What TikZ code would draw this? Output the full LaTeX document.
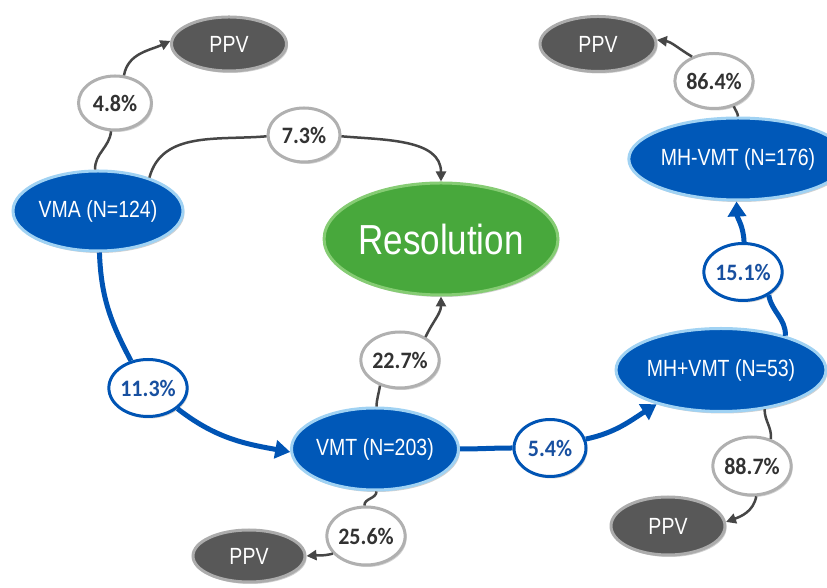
\documentclass[tikz,border=0pt]{standalone}
\usepackage{graphicx}
\usepackage{fontspec}
\setmainfont{Liberation Sans}
\newfontfamily\pctfont{Carlito}
\usetikzlibrary{shapes.geometric,arrows.meta,shadows}
\newcommand{\vstr}[1]{\scalebox{1}[1.2]{#1}}
\newcommand{\pstr}[1]{\scalebox{1}[1.07]{#1}}
\definecolor{bfill}{RGB}{0,88,184}
\definecolor{bring}{RGB}{160,210,243}
\definecolor{pfill}{RGB}{88,88,88}
\definecolor{pring}{RGB}{172,172,172}
\definecolor{rfill}{RGB}{72,168,60}
\definecolor{rring}{RGB}{134,204,116}
\definecolor{cring}{RGB}{176,176,176}
\definecolor{ctext}{RGB}{50,50,50}
\definecolor{bline}{RGB}{0,84,180}
\definecolor{btext}{RGB}{24,80,160}
\definecolor{gcol}{RGB}{70,70,70}
\tikzset{
  shad/.style={drop shadow={shadow xshift=1.5bp,shadow yshift=-2bp,opacity=0.18,fill=black}},
  blueell/.style={ellipse, shad, fill=bfill, draw=bring, line width=3bp, text=white,
    font=\fontsize{19.5bp}{22bp}\selectfont, inner sep=0pt},
  ppvell/.style={ellipse, shad, fill=pfill, draw=pring, line width=3bp, text=white,
    font=\fontsize{19.5bp}{22bp}\selectfont, inner sep=0pt},
  resell/.style={ellipse, shad, fill=rfill, draw=rring, line width=3bp, text=white,
    font=\fontsize{35bp}{38bp}\selectfont, inner sep=0pt},
  pct/.style={ellipse, shad, fill=white, draw=cring, line width=3bp, text=ctext,
    font=\pctfont\bfseries\fontsize{22bp}{24bp}\selectfont, inner sep=0pt},
  bpct/.style={pct, draw=bline, text=btext},
  gline/.style={draw=gcol, line width=2.5bp},
  garr/.style={gline, -{Triangle[length=10bp,width=10bp]}},
  bln/.style={draw=bline, line width=5bp},
  barr/.style={bln, -{Triangle[length=15bp,width=18bp]}},
}
\begin{document}
\begin{tikzpicture}[x=1bp,y=1bp]
\useasboundingbox (0,0) rectangle (827,588);
% main nodes
\node[blueell, minimum width=170bp, minimum height=80bp] (vma) at (98,377) {\vstr{VMA (N=124)}};
\node[blueell, minimum width=167bp, minimum height=82bp] (vmt) at (375,139) {\vstr{VMT (N=203)}};
\node[blueell, minimum width=169bp, minimum height=83bp] (mhp) at (721,218) {\vstr{MH+VMT (N=53)}};
\node[blueell, minimum width=164bp, minimum height=82bp] (mhvmt) at (738,429) {\vstr{MH-VMT (N=176)}};
\node[resell, minimum width=229bp, minimum height=112bp] (res) at (441,349) {\vstr{Resolution}};
\node[ppvell, minimum width=115bp, minimum height=54bp] (ppva) at (229,544) {\vstr{PPV}};
\node[ppvell, minimum width=116bp, minimum height=55bp] (ppvb) at (598,544) {\vstr{PPV}};
\node[ppvell, minimum width=112bp, minimum height=52bp] (ppvc) at (249,32) {\vstr{PPV}};
\node[ppvell, minimum width=114bp, minimum height=58bp] (ppvd) at (668,62) {\vstr{PPV}};
% percentage nodes
\node[pct, minimum width=73bp, minimum height=54bp] (c48) at (115,485) {\pstr{4.8\%}};
\node[pct, minimum width=72bp, minimum height=54bp] (c73) at (304,453) {\pstr{7.3\%}};
\node[pct, minimum width=71bp, minimum height=56bp] (c227) at (400,228) {\pstr{22.7\%}};
\node[pct, minimum width=69bp, minimum height=58bp] (c256) at (366,52) {\pstr{25.6\%}};
\node[pct, minimum width=72bp, minimum height=55bp] (c864) at (714,507) {\pstr{86.4\%}};
\node[pct, minimum width=72bp, minimum height=58bp] (c887) at (752,122) {\pstr{88.7\%}};
\node[bpct, minimum width=74bp, minimum height=57bp] (c113) at (148,200) {\pstr{11.3\%}};
\node[bpct, minimum width=72bp, minimum height=57bp] (c54) at (550,140) {\pstr{5.4\%}};
\node[bpct, minimum width=69bp, minimum height=57bp] (c151) at (743,316) {\pstr{15.1\%}};
% gray connectors
\draw[gline] (vma.94) to[out=92,in=265] (c48.262);
\draw[garr] (c48.72) to[out=80,in=205] (ppva.177);
\draw[gline] (vma.33) to[out=75,in=185] (c73.182);
\draw[garr] (c73.358) to[out=-5,in=90] (res.north);
\draw[gline] (vmt.88) to[out=88,in=262] (c227.232);
\draw[garr] (c227.42) to[out=65,in=-90] (res.south);
\draw[gline] (vmt.272) to[out=-90,in=92] (c256.93);
\draw[garr] (c256.208) to[out=195,in=5] (ppvc.east);
\draw[gline] (mhvmt.90) to[out=95,in=-70] (c864.-52);
\draw[garr] (c864.132) to[out=150,in=-8] (ppvb.4);
\draw[gline] (mhp.-42) to[out=-90,in=85] (c887.55);
\draw[garr] (c887.-82) to[out=-100,in=20] (ppvd.4);
% blue connectors
\draw[bln] (vma.272) to[out=-88,in=118] (c113.122);
\draw[barr] (c113.-35) to[out=-38,in=170] (vmt.182);
\draw[bln] (vmt.east) to[out=0,in=180] (c54.west);
\draw[barr] (c54.14) to[out=12,in=212] (mhp.208);
\draw[bln] (mhp.28) to[out=88,in=-80] (c151.-42);
\draw[barr] (c151.88) to[out=92,in=-88] (mhvmt.268);
\end{tikzpicture}
\end{document}
